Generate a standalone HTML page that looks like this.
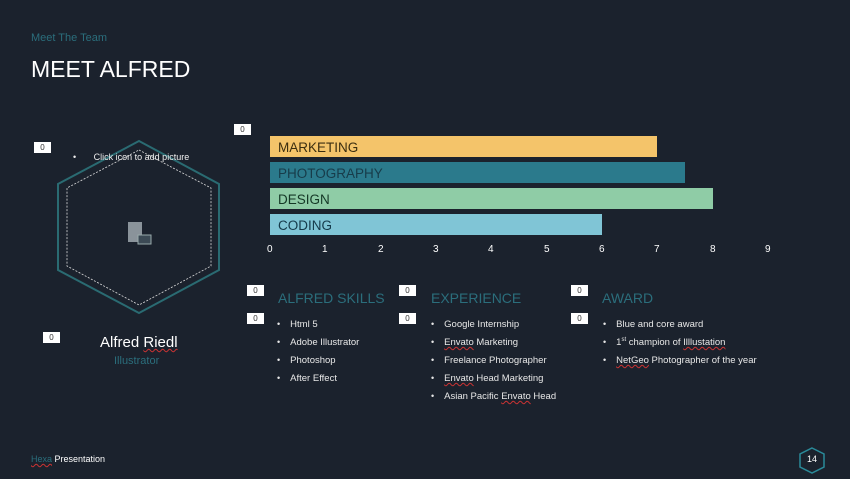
<!DOCTYPE html>
<html><head><meta charset="utf-8"><style>
body{margin:0;width:850px;height:479px;background:#1b222d;position:relative;overflow:hidden;font-family:"Liberation Sans",sans-serif;color:#fff}
.a{position:absolute;white-space:nowrap}
.box{position:absolute;width:17px;height:11px;background:#fff;color:#333;font-size:8px;text-align:center;line-height:11px}
.bar{position:absolute;left:270px;height:21px;font-size:13.5px;line-height:23px;padding-left:8px;box-sizing:border-box}
.ax{position:absolute;top:244px;font-size:10px;color:#fff}
.h{position:absolute;font-size:14px;color:#2b6e7c}
ul{position:absolute;margin:0;padding:0;list-style:none;font-size:9.5px;color:#e8e8e8}
li{height:18px;line-height:14px}
li:before{content:"•";margin-right:10px;font-size:9px}
sup{font-size:6px;line-height:0;vertical-align:4px}
.sq{text-decoration:underline wavy #c33;text-decoration-thickness:1px}
</style></head><body>
<div class="a" style="left:31px;top:32px;font-size:11px;color:#2b6e7c">Meet The Team</div>
<div class="a" style="left:31px;top:56px;font-size:23px;color:#fff">MEET ALFRED</div>

<svg class="a" style="left:0;top:0" width="850" height="479">
<polygon points="139,141 219,184 219,270 139,313 58,270 58,184" fill="none" stroke="#2a6b72" stroke-width="2"/>
<polygon points="139,150 211,188 211,266 139,305 67,266 67,188" fill="none" stroke="#ddd" stroke-width="0.8" stroke-dasharray="2,1.5"/>
<rect x="128" y="222" width="14" height="20" fill="#8a939a"/>
<rect x="138" y="235" width="13" height="9" fill="#3c4a55" stroke="#9aa" stroke-width="1"/>
<polygon points="812,448 824,454 824,467 812,473 800,467 800,454" fill="none" stroke="#2a8a99" stroke-width="1.5"/>
</svg>
<div class="a" style="left:803px;top:454px;font-size:9px;width:18px;text-align:center">14</div>

<div class="box" style="left:34px;top:142px">0</div>
<div class="box" style="left:234px;top:124px">0</div>
<div class="box" style="left:43px;top:332px">0</div>
<div class="a" style="left:73px;top:152px;font-size:9px;color:#eee">•&nbsp;&nbsp;&nbsp;&nbsp;&nbsp;&nbsp;&nbsp;Click icon to add picture</div>
<div class="a" style="left:100px;top:334px;font-size:15px;color:#fff">Alfred <span class="sq">Riedl</span></div>
<div class="a" style="left:114px;top:355px;font-size:11px;color:#2b6e7c">Illustrator</div>

<div class="bar" style="top:136px;width:387px;background:#f4c46a;color:#3b2e10">MARKETING</div>
<div class="bar" style="top:162px;width:415px;background:#2b7a8c;color:#173c4a">PHOTOGRAPHY</div>
<div class="bar" style="top:188px;width:443px;background:#8fcca6;color:#153826">DESIGN</div>
<div class="bar" style="top:214px;width:332px;background:#80c5d6;color:#153a4a">CODING</div>
<div class="ax" style="left:267px">0</div><div class="ax" style="left:322px">1</div><div class="ax" style="left:378px">2</div><div class="ax" style="left:433px">3</div><div class="ax" style="left:488px">4</div><div class="ax" style="left:544px">5</div><div class="ax" style="left:599px">6</div><div class="ax" style="left:654px">7</div><div class="ax" style="left:710px">8</div><div class="ax" style="left:765px">9</div>

<div class="box" style="left:247px;top:285px">0</div>
<div class="box" style="left:247px;top:313px">0</div>
<div class="box" style="left:399px;top:285px">0</div>
<div class="box" style="left:399px;top:313px">0</div>
<div class="box" style="left:571px;top:285px">0</div>
<div class="box" style="left:571px;top:313px">0</div>
<div class="h" style="left:278px;top:290px">ALFRED SKILLS</div>
<div class="h" style="left:431px;top:290px">EXPERIENCE</div>
<div class="h" style="left:602px;top:290px">AWARD</div>
<ul style="left:277px;top:317px"><li>Html 5</li><li>Adobe Illustrator</li><li>Photoshop</li><li>After Effect</li></ul>
<ul style="left:431px;top:317px"><li>Google Internship</li><li><span class="sq">Envato</span> Marketing</li><li>Freelance Photographer</li><li><span class="sq">Envato</span> Head Marketing</li><li>Asian Pacific <span class="sq">Envato</span> Head</li></ul>
<ul style="left:603px;top:317px"><li>Blue and core award</li><li>1<sup>st</sup> champion of <span class="sq">Illlustation</span></li><li><span class="sq">NetGeo</span> Photographer of the year</li></ul>

<div class="a" style="left:31px;top:454px;font-size:9px"><span class="sq" style="color:#2b6e7c">Hexa</span> Presentation</div>
</body></html>
